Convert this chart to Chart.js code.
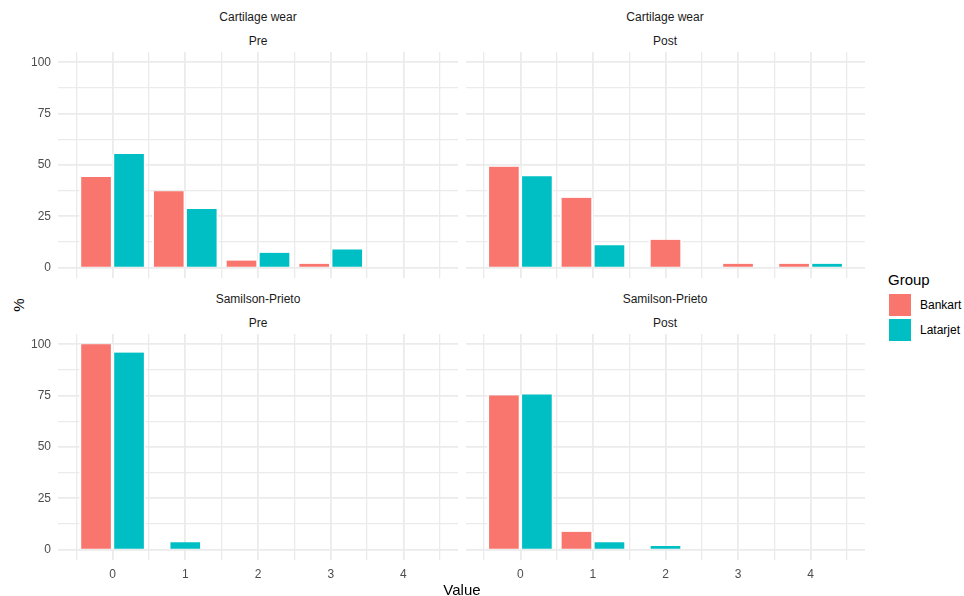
<!DOCTYPE html>
<html>
<head>
<meta charset="utf-8">
<script src="https://cdn.jsdelivr.net/npm/chart.js@4.4.1/dist/chart.umd.min.js"></script>
<style>
  body { margin: 0; background: #fff; font-family: "Liberation Sans", Arial, sans-serif; }
  #wrap { position: relative; width: 964px; height: 596px; overflow: hidden; }
  canvas { position: absolute; }
  .txt { position: absolute; white-space: nowrap; line-height: 1; }
  .strip { font-size: 12px; color: #1a1a1a; transform: translate(-50%, -50%); }
  .key { position: absolute; width: 22px; height: 22px; }
</style>
</head>
<body>
<div id="wrap">
  <canvas id="c1" width="460" height="226" style="left:0;top:52px"></canvas>
  <canvas id="c2" width="399" height="226" style="left:466px;top:52px"></canvas>
  <canvas id="c3" width="460" height="262" style="left:0;top:334px"></canvas>
  <canvas id="c4" width="399" height="262" style="left:466px;top:334px"></canvas>

  <div class="txt strip" style="left:258px;top:17px">Cartilage wear</div>
  <div class="txt strip" style="left:258px;top:41px">Pre</div>
  <div class="txt strip" style="left:665px;top:17px">Cartilage wear</div>
  <div class="txt strip" style="left:665px;top:41px">Post</div>
  <div class="txt strip" style="left:258px;top:299px">Samilson-Prieto</div>
  <div class="txt strip" style="left:258px;top:323px">Pre</div>
  <div class="txt strip" style="left:665px;top:299px">Samilson-Prieto</div>
  <div class="txt strip" style="left:665px;top:323px">Post</div>

  <div class="txt" style="left:462px;top:589px;font-size:15px;color:#000;transform:translate(-50%,-50%)">Value</div>
  <div class="txt" style="left:18px;top:305px;font-size:15px;color:#000;transform:translate(-50%,-50%) rotate(-90deg)">%</div>

  <div class="txt" style="left:888px;top:279px;font-size:15px;color:#000;transform:translateY(-50%)">Group</div>
  <div class="key" style="left:889px;top:294px;background:#F8766D"></div>
  <div class="txt" style="left:920px;top:305px;font-size:12px;color:#000;transform:translateY(-50%)">Bankart</div>
  <div class="key" style="left:889px;top:319px;background:#00BFC4"></div>
  <div class="txt" style="left:920px;top:330px;font-size:12px;color:#000;transform:translateY(-50%)">Latarjet</div>
</div>

<script>
// data (%)
const values = [0, 1, 2, 3, 4];

const cartPreBankart = [44.2, 37.2, 3.5, 1.9, null];
const cartPreLatarjet = [55.3, 28.6, 7.3, 8.9, null];

const cartPostBankart = [49.2, 34.0, 13.6, 1.9, 1.9];
const cartPostLatarjet = [44.5, 11.0, null, null, 1.9];

const samPreBankart = [100, null, null, null, null];
const samPreLatarjet = [96.0, 3.7, null, null, null];

const samPostBankart = [75.1, 8.7, null, null, null];
const samPostLatarjet = [75.6, 3.7, 1.8, null, null];

const yTicks = [0, 25, 50, 75, 100];

const bankartColor = '#F8766D';
const latarjetColor = '#00BFC4';
const gridColor = '#ebebeb';

// major + minor breaks like ggplot
function withMinor(list) {
    const out = [];
    for (let i = 0; i < list.length; i++) {
        out.push(list[i]);
        if (i < list.length - 1) out.push((list[i] + list[i + 1]) / 2);
    }
    return out;
}

function makePanel(id, bankart, latarjet, showY, showX) {
    const ctx = document.getElementById(id).getContext('2d');
    return new Chart(ctx, {
        type: 'bar',
        data: {
            labels: values,
            datasets: [{
                label: 'Bankart',
                data: bankart,
                backgroundColor: bankartColor,
                borderColor: '#ffffff',
                borderWidth: {left: 2, right: 2, top: 0, bottom: 0}
            }, {
                label: 'Latarjet',
                data: latarjet,
                backgroundColor: latarjetColor,
                borderColor: '#ffffff',
                borderWidth: {left: 2, right: 2, top: 0, bottom: 0}
            }]
        },
        options: {
            responsive: false,
            animation: false,
            skipNull: true,
            barThickness: 33,
            layout: {padding: {left: 0, right: showY ? 2 : 0, top: 0, bottom: 0}},
            plugins: {legend: {display: false}, tooltip: {enabled: false}, title: {display: false}},
            scales: {
                x: {
                    type: 'linear',
                    offset: false,
                    min: -0.75,
                    max: 4.75,
                    afterBuildTicks: (scale) => {
                        scale.ticks = [-0.5].concat(withMinor(values), [4.5]).map(v => ({value: v}));
                    },
                    afterFit: (scale) => {
                        scale.height = showX ? 36 : 0;
                        scale.paddingLeft = 0;
                        scale.paddingRight = 0;
                    },
                    border: {display: false},
                    grid: {
                        offset: false,
                        drawTicks: false,
                        color: gridColor,
                        lineWidth: (c) => Number.isInteger(c.tick.value) ? 1.8 : 1.3
                    },
                    ticks: {
                        display: showX,
                        autoSkip: false,
                        maxRotation: 0,
                        padding: 7,
                        color: '#4d4d4d',
                        font: {family: 'Liberation Sans', size: 12},
                        callback: (v) => Number.isInteger(v) ? String(v) : ''
                    }
                },
                y: {
                    min: -5,
                    max: 105,
                    afterBuildTicks: (scale) => {
                        scale.ticks = withMinor(yTicks).map(v => ({value: v}));
                    },
                    afterFit: (scale) => {
                        scale.width = showY ? 58 : 0;
                        scale.paddingTop = 0;
                        scale.paddingBottom = 0;
                    },
                    border: {display: false},
                    grid: {
                        drawTicks: false,
                        color: gridColor,
                        lineWidth: (c) => c.tick.value % 25 === 0 ? 1.8 : 1.3
                    },
                    ticks: {
                        display: showY,
                        padding: 7,
                        color: '#4d4d4d',
                        font: {family: 'Liberation Sans', size: 12},
                        callback: (v) => v % 25 === 0 ? String(v) : ''
                    }
                }
            }
        }
    });
}

const cartPre = makePanel('c1', cartPreBankart, cartPreLatarjet, true, false);
const cartPost = makePanel('c2', cartPostBankart, cartPostLatarjet, false, false);
const samPre = makePanel('c3', samPreBankart, samPreLatarjet, true, true);
const samPost = makePanel('c4', samPostBankart, samPostLatarjet, false, true);
</script>
</body>
</html>
